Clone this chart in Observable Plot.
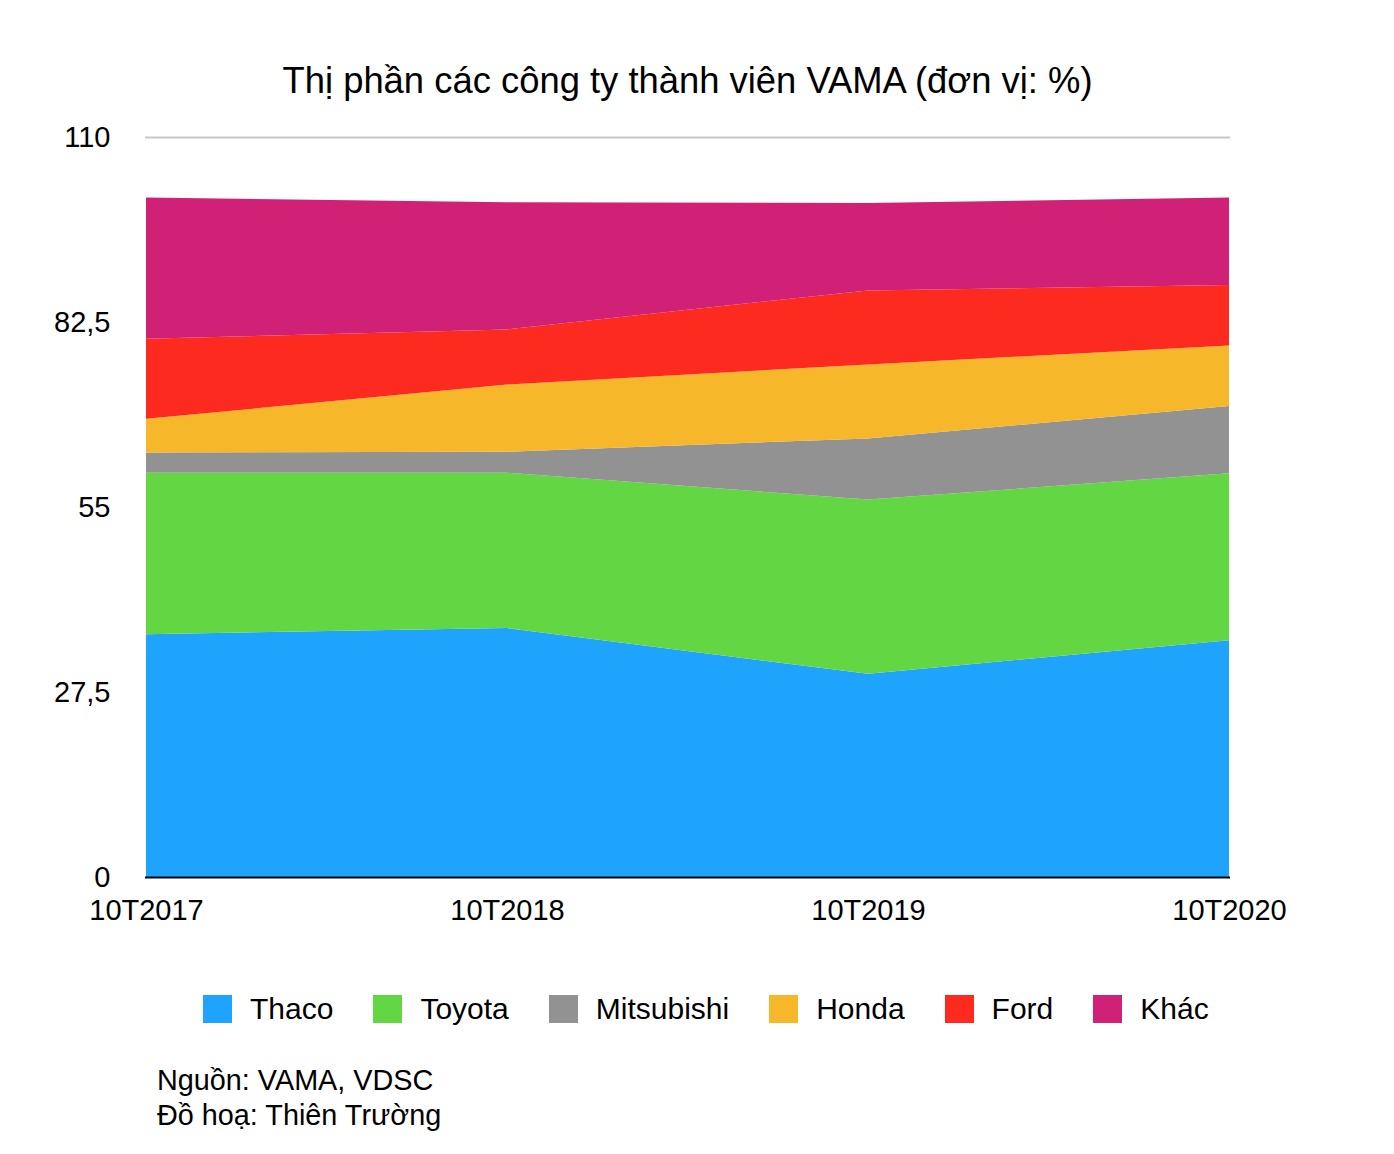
<!DOCTYPE html>
<html>
<head>
<meta charset="utf-8">
<script src="https://cdn.jsdelivr.net/npm/d3@7"></script>
<script src="https://cdn.jsdelivr.net/npm/@observablehq/plot@0.6"></script>
<style>
  html, body { margin: 0; padding: 0; background: #fff; }
  body { width: 1394px; height: 1154px; position: relative; font-family: "Liberation Sans", Arial, Helvetica, sans-serif; color: #000; }
  #chart { position: absolute; top: 0; left: 0; z-index: 1; }
  #title { position: absolute; top: 60px; left: 0; width: 1375px; text-align: center; font-size: 36.4px; z-index: 2; }
  #legend { position: absolute; top: 992px; left: 203px; display: flex; align-items: center; font-size: 30px; z-index: 2; }
  .item { display: flex; align-items: center; margin-right: 40px; }
  .sw { width: 29px; height: 28px; margin-right: 18px; }
  #caption { position: absolute; top: 1063px; left: 157px; font-size: 28.8px; line-height: 35px; z-index: 2; }
</style>
</head>
<body>
<div id="chart"></div>
<div id="title">Thị phần các công ty thành viên VAMA (đơn vị: %)</div>
<div id="legend"></div>
<div id="caption">Nguồn: VAMA, VDSC<br>Đồ hoạ: Thiên Trường</div>
<script>
const periods = ["10T2017", "10T2018", "10T2019", "10T2020"];
const companies = ["Thaco", "Toyota", "Mitsubishi", "Honda", "Ford", "Khác"];
const colors = ["#1EA4FC", "#63D644", "#929292", "#F6B72B", "#FD2A1F", "#D12176"];
const thaco = [36.1, 37.0, 30.2, 35.2];
const toyota = [24.0, 23.1, 25.9, 24.8];
const mitsubishi = [3.0, 3.1, 9.1, 10.0];
const honda = [5.0, 10.0, 11.0, 9.0];
const ford = [11.9, 8.2, 11.0, 9.0];
const khac = [21.0, 18.9, 13.0, 13.0];
const yTicks = [0, 27.5, 55, 82.5, 110];

const series = [thaco, toyota, mitsubishi, honda, ford, khac];
const data = [];
companies.forEach((c, i) => periods.forEach((p, j) => data.push({company: c, period: p, value: series[i][j]})));

const chart = Plot.plot({
  width: 1394,
  height: 940,
  marginTop: 137,
  marginBottom: 63,
  marginLeft: 145,
  marginRight: 164,
  style: {fontFamily: "'Liberation Sans', Arial, Helvetica, sans-serif", fontSize: "29px", color: "#000", background: "transparent", overflow: "visible"},
  x: {type: "point", domain: periods, padding: 0, label: null},
  y: {domain: [0, 110], label: null},
  color: {domain: companies, range: colors},
  marks: [
    Plot.ruleY([110], {stroke: "#c8c8c8", strokeWidth: 2}),
    Plot.areaY(data, {x: "period", y: "value", fill: "company", order: companies}),
    Plot.ruleY([0], {stroke: "#000", strokeWidth: 2}),
    Plot.axisY({ticks: yTicks, tickSize: 0, tickPadding: 35, tickFormat: d => String(d).replace(".", ","), fontSize: 29, label: null}),
    Plot.axisX({tickSize: 0, tickPadding: 22, fontSize: 29, label: null})
  ]
});
document.getElementById("chart").appendChild(chart);

const legend = document.getElementById("legend");
companies.forEach((c, i) => {
  const item = document.createElement("div");
  item.className = "item";
  const sw = document.createElement("div");
  sw.className = "sw";
  sw.style.background = colors[i];
  const t = document.createElement("span");
  t.textContent = c;
  item.appendChild(sw);
  item.appendChild(t);
  legend.appendChild(item);
});
</script>
</body>
</html>
